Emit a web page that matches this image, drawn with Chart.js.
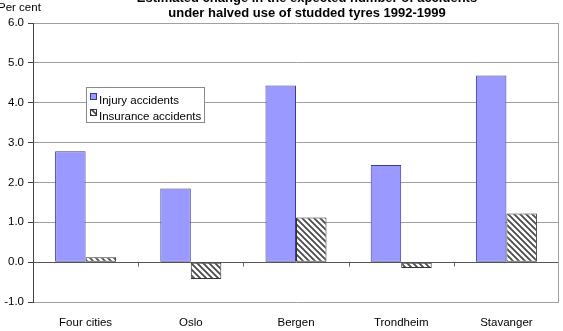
<!DOCTYPE html>
<html>
<head>
<meta charset="utf-8">
<script src="https://cdn.jsdelivr.net/npm/chart.js@4.4.1/dist/chart.umd.min.js"></script>
<style>
  html, body { margin: 0; padding: 0; background: #fff; overflow: hidden; }
  #wrap { width: 563px; height: 331px; position: relative; }
</style>
</head>
<body>
<div id="wrap"><canvas id="c" width="563" height="331"></canvas></div>
<script>
const categories = ['Four cities', 'Oslo', 'Bergen', 'Trondheim', 'Stavanger'];
const injuryAccidents = [2.78, 1.85, 4.43, 2.44, 4.68];
const insuranceAccidents = [0.12, -0.42, 1.12, -0.15, 1.22];
const seriesNames = ['Injury accidents', 'Insurance accidents'];
const titleLines = ['Estimated change in the expected number of accidents', 'under halved use of studded tyres 1992-1999'];
const yAxisLabel = 'Per cent';
const yMin = -1, yMax = 6, yStep = 1;

const FONT = '"Liberation Sans", Arial, sans-serif';

function makeHatch() {
  const s = 6;
  const p = document.createElement('canvas');
  p.width = s; p.height = s;
  const g = p.getContext('2d');
  g.fillStyle = '#ffffff';
  g.fillRect(0, 0, s, s);
  g.strokeStyle = '#4a4a4a';
  g.lineWidth = 1.8;
  g.beginPath();
  g.moveTo(-1, -1); g.lineTo(s + 1, s + 1);
  g.moveTo(s - 2, -2); g.lineTo(s + 2, 2);
  g.moveTo(-2, s - 2); g.lineTo(2, s + 2);
  g.stroke();
  return g.createPattern(p, 'repeat');
}
const ctx = document.getElementById('c').getContext('2d');
const hatch = makeHatch();

const decorPlugin = {
  id: 'decor',
  afterDraw(chart) {
    const c = chart.ctx;
    const a = chart.chartArea;
    const x = chart.scales.x, y = chart.scales.y;
    c.save();
    // right border
    c.strokeStyle = '#a0a0a0';
    c.lineWidth = 1;
    c.beginPath();
    c.moveTo(a.right - 0.5, a.top);
    c.lineTo(a.right - 0.5, a.bottom);
    c.stroke();
    // category ticks at zero line
    const y0 = Math.round(y.getPixelForValue(0)) + 0.5;
    c.strokeStyle = '#666';
    c.beginPath();
    const n = categories.length;
    for (let i = 1; i < n; i++) {
      const px = Math.round(x.left + (x.right - x.left) * i / n) + 0.5;
      c.moveTo(px, y0);
      c.lineTo(px, y0 + 4);
    }
    c.stroke();
    // title
    c.fillStyle = '#000';
    c.font = 'bold 13px ' + FONT;
    c.textAlign = 'center';
    c.textBaseline = 'alphabetic';
    const cx = 307;
    c.fillText(titleLines[0], cx, 2);
    c.fillText(titleLines[1], cx, 17);
    // y axis label
    c.font = '11.5px ' + FONT;
    c.textAlign = 'left';
    c.fillText(yAxisLabel, -2, 11);
    // legend
    const lx = 86, ly = 87, lw = 118, lh = 35;
    c.fillStyle = '#fff';
    c.fillRect(lx, ly, lw, lh);
    c.strokeStyle = '#8a8a8a';
    c.strokeRect(lx + 0.5, ly + 0.5, lw, lh);
    // item 1
    c.fillStyle = '#9999ff';
    c.fillRect(90, 93, 7, 7);
    c.strokeStyle = '#333399';
    c.strokeRect(90.5, 93.5, 6, 6);
    // item 2
    c.fillStyle = hatch;
    c.fillRect(90, 109, 7, 7);
    c.strokeStyle = '#333';
    c.strokeRect(90.5, 109.5, 6, 6);
    c.fillStyle = '#000';
    c.font = '11.5px ' + FONT;
    c.fillText(seriesNames[0], 99, 104);
    c.fillText(seriesNames[1], 99, 120);
    c.restore();
  }
};

new Chart(ctx, {
  type: 'bar',
  data: {
    labels: categories,
    datasets: [
      {
        label: seriesNames[0],
        data: injuryAccidents,
        backgroundColor: '#9999ff',
        borderColor: '#3c3c8c',
        borderWidth: 1,
        borderSkipped: false,
        categoryPercentage: 0.58,
        barPercentage: 1.0
      },
      {
        label: seriesNames[1],
        data: insuranceAccidents,
        backgroundColor: hatch,
        borderColor: '#333333',
        borderWidth: 1,
        borderSkipped: false,
        categoryPercentage: 0.58,
        barPercentage: 1.0
      }
    ]
  },
  options: {
    responsive: false,
    animation: false,
    devicePixelRatio: 1,
    layout: { padding: { top: 23, right: 4, left: 0, bottom: 0 } },
    plugins: {
      legend: { display: false },
      title: { display: false },
      tooltip: { enabled: false }
    },
    scales: {
      x: {
        grid: { display: false, drawTicks: false },
        border: { display: false },
        ticks: { color: '#000', font: { family: FONT, size: 11.5 }, padding: 14, maxRotation: 0 },
        afterFit(s) { s.height = 29; }
      },
      y: {
        min: yMin,
        max: yMax,
        ticks: {
          stepSize: yStep,
          color: '#000',
          font: { family: FONT, size: 11.5 },
          padding: 4,
          callback: v => Number(v).toFixed(1)
        },
        grid: {
          color: c => (c.tick && c.tick.value === 0) ? '#555' : '#a0a0a0',
          tickColor: '#444',
          tickLength: 5,
          lineWidth: 1
        },
        border: { display: true, color: '#444', width: 1 },
        afterFit(s) { s.width = 33; }
      }
    }
  },
  plugins: [decorPlugin]
});
</script>
</body>
</html>
